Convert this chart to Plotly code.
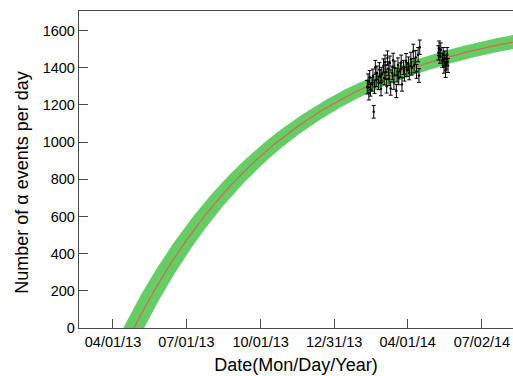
import numpy as np
import pandas as pd
import plotly.graph_objects as go

# Measured daily alpha counts
dates = [
    "2014-02-10", "2014-02-11", "2014-02-12", "2014-02-13", "2014-02-14",
    "2014-02-16", "2014-02-17", "2014-02-18", "2014-02-19", "2014-02-20",
    "2014-02-21", "2014-02-22", "2014-02-24", "2014-02-25", "2014-02-26",
    "2014-02-27", "2014-02-28", "2014-03-02", "2014-03-03", "2014-03-04",
    "2014-03-05", "2014-03-06", "2014-03-07", "2014-03-08", "2014-03-09",
    "2014-03-10", "2014-03-11", "2014-03-13", "2014-03-14", "2014-03-15",
    "2014-03-16", "2014-03-18", "2014-03-19", "2014-03-20", "2014-03-21",
    "2014-03-23", "2014-03-24", "2014-03-25", "2014-03-27", "2014-03-28",
    "2014-03-30", "2014-03-31", "2014-04-02", "2014-04-03", "2014-04-05",
    "2014-04-06", "2014-04-08", "2014-04-09", "2014-04-11", "2014-04-12",
    "2014-04-14", "2014-04-15", "2014-04-16",
    "2014-05-09", "2014-05-10", "2014-05-11", "2014-05-12", "2014-05-14",
    "2014-05-15", "2014-05-16", "2014-05-17", "2014-05-18", "2014-05-19",
    "2014-05-20", "2014-05-21",
]
counts = [
    1295, 1330, 1262, 1348, 1283,
    1310, 1356, 1163, 1298, 1402,
    1335, 1372, 1318, 1390, 1352,
    1285, 1365, 1410, 1345, 1430,
    1378, 1300, 1452, 1395, 1340,
    1425, 1288, 1372, 1440, 1320,
    1398, 1275, 1360, 1415, 1345,
    1388, 1430, 1310, 1402, 1365,
    1438, 1390, 1420, 1372, 1445,
    1398, 1488, 1410, 1455, 1380,
    1470, 1358, 1510,
    1480, 1505, 1462, 1495, 1440,
    1470, 1408, 1452, 1385, 1430,
    1470, 1412,
]
# Poisson uncertainty on each daily count
count_err = np.sqrt(np.array(counts, dtype=float))

# Ingrowth fit: N(t) = N_inf * (1 - exp(-(t - t0) / tau))
fit_start = pd.Timestamp("2013-04-27")
n_inf = 1700.0
tau_days = 199.6
sigma_n_inf = 40.0
sigma_t0_days = 13.0

x_tick_dates = ["2013-04-01", "2013-07-01", "2013-10-01", "2013-12-31", "2014-04-01", "2014-07-02"]
x_tick_labels = ["04/01/13", "07/01/13", "10/01/13", "12/31/13", "04/01/14", "07/02/14"]
y_ticks = [0, 200, 400, 600, 800, 1000, 1200, 1400, 1600]

x_range = ["2013-02-17 22:00", "2014-08-09 12:00"]
y_range = [0, 1705]

# Fit curve and its 1-sigma band
t_grid = pd.date_range("2013-03-20", "2014-08-20", freq="12h")
dt = (t_grid - fit_start).total_seconds().to_numpy() / 86400.0
decay = np.exp(-dt / tau_days)
fit = n_inf * (1.0 - decay)
sigma = np.sqrt(((1.0 - decay) * sigma_n_inf) ** 2 + (n_inf / tau_days * decay * sigma_t0_days) ** 2)

axis_color = "#4a4a4a"
font_family = "Liberation Sans, Arial, sans-serif"

fig = go.Figure()
fig.add_trace(go.Scatter(x=t_grid, y=fit - sigma, mode="lines", line=dict(width=0, color="#66cc66"),
                         hoverinfo="skip", showlegend=False))
fig.add_trace(go.Scatter(x=t_grid, y=fit + sigma, mode="lines", line=dict(width=0, color="#66cc66"),
                         fill="tonexty", fillcolor="#66cc66", hoverinfo="skip", showlegend=False))
fig.add_trace(go.Scatter(x=t_grid, y=fit, mode="lines", line=dict(width=1.1, color="#e0604f"),
                         hoverinfo="skip", showlegend=False))
fig.add_trace(go.Scatter(
    x=dates, y=counts, mode="markers",
    marker=dict(size=2.5, color="black"),
    error_y=dict(type="data", array=count_err, color="black", thickness=1, width=2),
    showlegend=False,
))

fig.update_layout(
    width=513, height=376,
    margin=dict(l=79, r=0, t=11, b=48),
    paper_bgcolor="white", plot_bgcolor="white",
    font=dict(family=font_family, size=14, color="black"),
    xaxis=dict(
        type="date", range=x_range,
        tickmode="array", tickvals=x_tick_dates, ticktext=x_tick_labels,
        ticks="inside", ticklen=9, tickwidth=1.3, tickcolor=axis_color,
        showline=True, linecolor=axis_color, linewidth=1.3, mirror=True,
        showgrid=False, zeroline=False,
        tickfont=dict(size=14.5),
        title=dict(text="Date(Mon/Day/Year)", font=dict(size=18), standoff=9),
    ),
    yaxis=dict(
        range=y_range,
        tickmode="array", tickvals=y_ticks,
        ticks="inside", ticklen=9, tickwidth=1.3, tickcolor=axis_color,
        showline=True, linecolor=axis_color, linewidth=1.3, mirror=False,
        showgrid=False, zeroline=False,
        tickfont=dict(size=14.5),
    ),
    annotations=[dict(
        text="Number of α events per day", textangle=-90,
        xref="paper", yref="paper", x=-0.13, y=0.46,
        xanchor="center", yanchor="middle", showarrow=False,
        font=dict(size=18),
    )],
)

fig.write_html("out.html")
